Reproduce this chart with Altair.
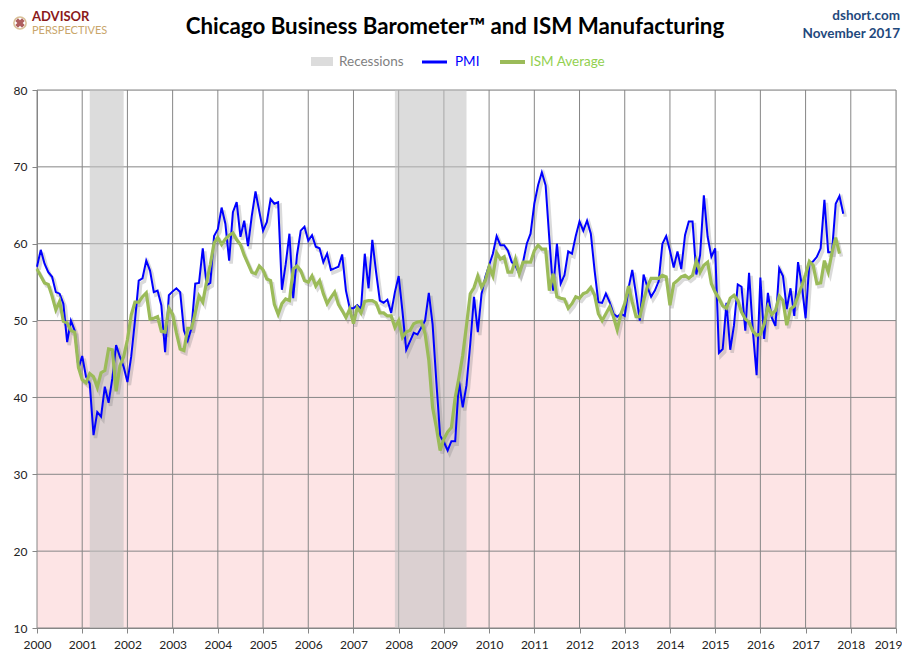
import altair as alt
import pandas as pd

# ---------------- data ----------------
pmi = [
    57.0, 59.2, 57.4, 56.3, 55.7, 53.7, 53.5, 52.2, 47.2, 50.0, 48.7, 43.8,   # 2000
    45.4, 42.7, 41.8, 35.1, 38.1, 37.5, 41.4, 39.3, 42.5, 46.8, 45.3, 44.0,   # 2001
    42.0, 45.3, 50.0, 55.2, 55.5, 57.8, 56.5, 53.7, 53.9, 52.0, 45.9, 53.3,   # 2002
    53.8, 54.2, 53.7, 48.7, 47.4, 49.0, 54.8, 54.9, 59.4, 54.6, 54.9, 61.0,   # 2003
    61.9, 64.7, 62.6, 57.8, 64.1, 65.4, 60.9, 63.0, 59.7, 63.6, 66.8, 64.2,   # 2004
    61.7, 62.8, 65.8, 65.2, 65.4, 54.0, 57.3, 61.3, 52.9, 58.5, 61.7, 62.2,   # 2005
    60.4, 61.1, 59.6, 59.4, 57.6, 58.7, 56.6, 56.8, 57.0, 58.6, 53.9, 51.6,   # 2006
    51.6, 52.0, 51.5, 58.7, 54.2, 60.5, 56.3, 52.6, 52.3, 52.7, 51.0, 53.7,   # 2007
    55.8, 51.2, 46.2, 47.3, 48.4, 48.2, 49.1, 50.0, 53.6, 49.5, 42.0, 35.0,   # 2008
    34.2, 33.1, 34.3, 34.3, 42.2, 38.7, 41.6, 47.0, 53.1, 48.5, 53.5, 55.7,   # 2009
    57.2, 58.7, 61.0, 59.8, 59.8, 59.1, 57.6, 57.2, 56.1, 57.6, 60.0, 61.3,   # 2010
    65.2, 67.6, 69.3, 67.6, 60.5, 53.9, 60.0, 54.8, 55.9, 59.0, 58.7, 61.0,   # 2011
    62.9, 61.7, 63.0, 61.3, 56.5, 52.4, 52.3, 53.5, 52.4, 50.9, 50.5, 50.9,   # 2012
    50.6, 54.2, 56.6, 53.4, 50.0, 56.0, 54.4, 53.1, 53.9, 55.1, 60.0, 61.0,   # 2013
    59.1, 56.9, 59.0, 56.7, 61.1, 62.9, 62.9, 56.0, 58.5, 66.3, 60.9, 58.3,   # 2014
    59.4, 45.8, 46.3, 52.3, 46.2, 49.4, 54.7, 54.4, 48.7, 56.2, 48.7, 42.9,   # 2015
    55.6, 47.6, 53.6, 50.4, 49.3, 56.8, 55.8, 51.5, 54.2, 50.6, 57.6, 54.6,   # 2016
    50.3, 57.4, 57.7, 58.3, 59.4, 65.7, 58.9, 58.9, 65.2, 66.2, 63.9,         # 2017
]

ism = [
    56.7, 55.8, 54.9, 54.7, 53.2, 51.4, 52.5, 49.9, 49.7, 48.7, 48.5, 43.9,   # 2000
    42.3, 41.9, 43.1, 42.7, 41.3, 43.2, 43.5, 46.3, 46.2, 40.8, 44.1, 45.3,   # 2001
    47.5, 50.7, 52.4, 52.4, 53.1, 53.6, 50.2, 50.3, 50.5, 48.6, 48.5, 51.6,   # 2002
    50.8, 48.4, 46.3, 46.1, 49.0, 49.0, 51.0, 53.2, 52.4, 55.0, 57.3, 60.1,   # 2003
    60.8, 59.9, 60.6, 61.1, 61.4, 60.5, 59.9, 58.5, 57.4, 56.3, 56.1, 57.1,   # 2004
    56.6, 55.4, 55.2, 52.1, 50.8, 52.2, 52.8, 52.6, 56.7, 57.1, 56.5, 55.2,   # 2005
    55.0, 55.8, 54.5, 55.2, 53.5, 52.2, 53.0, 53.7, 52.1, 51.3, 50.4, 51.5,   # 2006
    49.6, 51.7, 51.0, 52.5, 52.6, 52.6, 52.3, 51.0, 51.0, 50.6, 50.6, 49.1,   # 2007
    50.0, 47.8, 48.5, 48.7, 49.6, 49.8, 49.9, 48.3, 44.8, 38.7, 36.1, 33.1,   # 2008
    34.6, 35.5, 36.1, 40.0, 42.6, 45.5, 49.4, 53.5, 54.3, 55.8, 54.3, 55.2,   # 2009
    57.0, 55.8, 58.8, 58.0, 58.3, 56.3, 56.3, 58.0, 56.1, 57.6, 57.6, 57.6,   # 2010
    59.1, 59.8, 59.3, 59.3, 53.9, 56.1, 53.1, 52.9, 52.8, 51.6, 52.2, 53.1,   # 2011
    52.9, 53.5, 53.7, 54.3, 53.3, 50.9, 50.0, 50.9, 51.8, 50.5, 48.8, 50.9,   # 2012
    52.2, 54.5, 52.4, 50.5, 50.5, 52.6, 54.4, 55.5, 55.5, 55.5, 55.9, 55.7,   # 2013
    52.0, 54.8, 55.2, 55.7, 55.9, 55.5, 55.9, 57.8, 56.3, 57.2, 57.6, 54.8,   # 2014
    53.7, 52.9, 51.9, 51.6, 52.9, 53.3, 52.6, 51.1, 50.2, 49.8, 48.6, 48.1,   # 2015
    48.2, 49.5, 51.8, 50.8, 51.3, 53.2, 52.6, 49.4, 51.5, 51.9, 53.2, 54.5,   # 2016
    56.0, 57.7, 57.2, 54.8, 54.9, 57.8, 56.3, 58.8, 60.8, 58.7,               # 2017
]

start_year = 2000
year_ticks = list(range(2000, 2020))
y_ticks = [10, 20, 30, 40, 50, 60, 70, 80]
rec_start = [2001 + 2 / 12, 2007 + 11 / 12]   # Mar 2001, Dec 2007
rec_end = [2001 + 11 / 12, 2009 + 6 / 12]     # end Nov 2001, end Jun 2009
contraction_line = 50

# ---------------- tables ----------------
df_pmi = pd.DataFrame({"t": [start_year + i / 12 for i in range(len(pmi))], "v": pmi})
df_ism = pd.DataFrame({"t": [start_year + i / 12 for i in range(len(ism))], "v": ism})
df_rec = pd.DataFrame({"s": rec_start, "e": rec_end, "lo": [y_ticks[0]] * 2, "hi": [y_ticks[-1]] * 2})
df_zone = pd.DataFrame({"s": [year_ticks[0]], "e": [year_ticks[-1]], "lo": [y_ticks[0]], "hi": [contraction_line]})
df_vg = pd.DataFrame({"t": year_ticks})
df_hg = pd.DataFrame({"v": y_ticks})

FONT = "Lato"
GRID = "#868686"

xs = alt.Scale(domain=[year_ticks[0], year_ticks[-1]], nice=False, zero=False)
ys = alt.Scale(domain=[y_ticks[0], y_ticks[-1]], nice=False, zero=False)

x_axis = alt.Axis(values=year_ticks, format="d", grid=False, title=None, domainColor=GRID,
                  tickColor=GRID, tickSize=5, labelPadding=6, labelFont=FONT, labelFontSize=12,
                  labelColor="#222222", labelFlush=False,
                  labelAlign={"condition": {"test": f"datum.value == {year_ticks[-1]}", "value": "right"},
                              "value": "center"},
                  labelOffset={"condition": {"test": f"datum.value == {year_ticks[-1]}", "value": 6},
                               "value": 0})
y_axis = alt.Axis(values=y_ticks, grid=False, title=None, domainColor=GRID, tickColor=GRID,
                  tickSize=5, labelPadding=5, labelFont=FONT, labelFontSize=12, labelColor="#222222")

zone = alt.Chart(df_zone).mark_rect(color="#FDE4E5").encode(
    x=alt.X("s:Q", scale=xs, axis=x_axis), x2="e:Q",
    y=alt.Y("lo:Q", scale=ys, axis=y_axis), y2="hi:Q")

vgrid = alt.Chart(df_vg).mark_rule(color=GRID, strokeWidth=1).encode(
    x=alt.X("t:Q", scale=xs))
hgrid = alt.Chart(df_hg).mark_rule(color=GRID, strokeWidth=1).encode(
    y=alt.Y("v:Q", scale=ys))

rec = alt.Chart(df_rec).mark_rect(color="#C2C2C2", opacity=0.57).encode(
    x=alt.X("s:Q", scale=xs), x2="e:Q",
    y=alt.Y("lo:Q", scale=ys), y2="hi:Q")

def shadow(df):
    return alt.Chart(df).mark_line(color="#7a7a7a", opacity=0.28, strokeWidth=3.5,
                                   xOffset=2, yOffset=3).encode(
        x=alt.X("t:Q", scale=xs), y=alt.Y("v:Q", scale=ys))

pmi_line = alt.Chart(df_pmi).mark_line(color="#0000FF", strokeWidth=2).encode(
    x=alt.X("t:Q", scale=xs), y=alt.Y("v:Q", scale=ys))
ism_line = alt.Chart(df_ism).mark_line(color="#9BBB59", strokeWidth=3.2).encode(
    x=alt.X("t:Q", scale=xs), y=alt.Y("v:Q", scale=ys))

one = pd.DataFrame({"a": [0]})

def txt(s, x, y, size, color, weight="normal", align="left", font=FONT):
    return alt.Chart(one).mark_text(text=s, fontSize=size, color=color, fontWeight=weight,
                                    align=align, baseline="middle", font=font).encode(
        x=alt.value(x), y=alt.value(y))

title = txt("Chicago Business Barometer\u2122 and ISM Manufacturing", 418, -63, 22.3, "#000000", "bold", "center")
site = txt("dshort.com", 863, -74, 13.5, "#1F497D", "bold", "right")
date = txt("November 2017", 863, -56, 13.5, "#1F497D", "bold", "right")
logo1 = txt("ADVISOR", -5, -73, 13, "#8B1A1A", "bold")
logo2 = txt("PERSPECTIVES", -5, -59, 11, "#C9A66B")
icon_ring = alt.Chart(one).mark_point(shape="circle", size=150, color="#C9A66B", strokeWidth=1.5).encode(
    x=alt.value(-17), y=alt.value(-67))
icon_star = alt.Chart(one).mark_point(shape="cross", size=90, filled=True, color="#8B1A1A", angle=45).encode(
    x=alt.value(-17), y=alt.value(-67))

leg_rect = alt.Chart(one).mark_rect(color="#DCDCDC").encode(
    x=alt.value(274), x2=alt.value(296), y=alt.value(-33), y2=alt.value(-24))
leg_rec_t = txt("Recessions", 302, -28, 13.5, "#7F7F7F")
leg_pmi = alt.Chart(one).mark_rule(color="#0000FF", strokeWidth=3).encode(
    x=alt.value(385), x2=alt.value(410), y=alt.value(-28))
leg_pmi_t = txt("PMI", 418, -28, 13.5, "#0000FF")
leg_ism = alt.Chart(one).mark_rule(color="#9BBB59", strokeWidth=4).encode(
    x=alt.value(463), x2=alt.value(488), y=alt.value(-28))
leg_ism_t = txt("ISM Average", 493, -28, 13.5, "#92D050")

chart = alt.layer(
    zone, vgrid, hgrid, rec,
    shadow(df_pmi), shadow(df_ism),
    pmi_line, ism_line,
    title, site, date, logo1, logo2, icon_ring, icon_star,
    leg_rect, leg_rec_t, leg_pmi, leg_pmi_t, leg_ism, leg_ism_t,
).properties(
    width=859, height=538,
    padding={"left": 29, "top": 82, "right": 6, "bottom": 25},
    autosize=alt.AutoSizeParams(type="none"),
).configure_view(stroke=None).configure(background="white")

chart.save("out.html", embed_options={"renderer": "svg", "actions": False})
